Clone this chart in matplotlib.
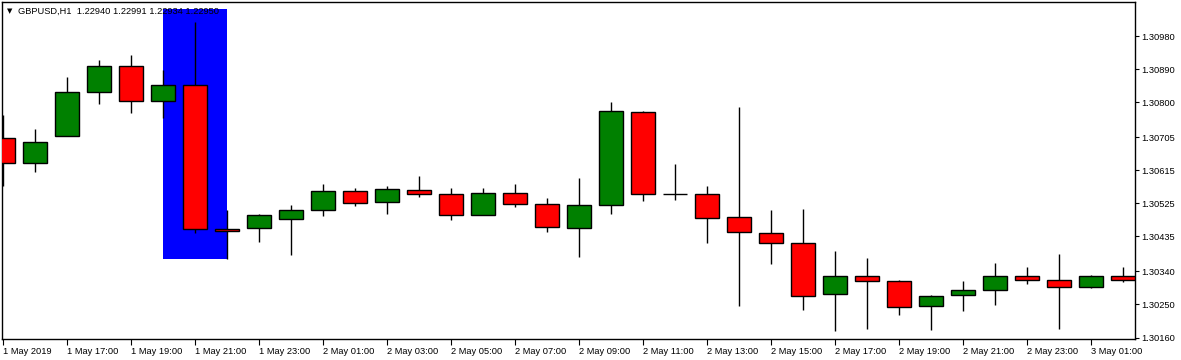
import matplotlib
matplotlib.use('Agg')
import matplotlib.pyplot as plt
from matplotlib.patches import Rectangle

plt.rcParams['font.family'] = ['Liberation Sans', 'DejaVu Sans']

# ── Data: GBPUSD H1 candles ───────────────────────────────────
opens = [1.30703, 1.30635, 1.30709, 1.30828, 1.30899, 1.30804, 1.30847, 1.30455,
         1.30458, 1.30483, 1.30507, 1.30559, 1.30529, 1.30562, 1.30551, 1.30494,
         1.30553, 1.30524, 1.30458, 1.30521, 1.30774, 1.30551, 1.30551, 1.30488,
         1.30445, 1.30417, 1.30278, 1.30328, 1.30314, 1.30246, 1.30276, 1.30289,
         1.30328, 1.30317, 1.30298, 1.30328]
highs = [1.30766, 1.30728, 1.30869, 1.30915, 1.30929, 1.30888, 1.31019, 1.30507,
         1.30496, 1.30521, 1.30578, 1.30567, 1.30573, 1.30600, 1.30567, 1.30567,
         1.30578, 1.30540, 1.30594, 1.30801, 1.30777, 1.30632, 1.30573, 1.30788,
         1.30507, 1.30510, 1.30396, 1.30377, 1.30317, 1.30276, 1.30314, 1.30363,
         1.30352, 1.30387, 1.30330, 1.30352]
lows = [1.30573, 1.30611, 1.30709, 1.30796, 1.30771, 1.30758, 1.30445, 1.30374,
        1.30420, 1.30385, 1.30491, 1.30518, 1.30496, 1.30543, 1.30480, 1.30494,
        1.30515, 1.30447, 1.30379, 1.30496, 1.30532, 1.30534, 1.30417, 1.30246,
        1.30360, 1.30235, 1.30178, 1.30183, 1.30221, 1.30181, 1.30232, 1.30249,
        1.30306, 1.30183, 1.30295, 1.30311]
closes = [1.30635, 1.30692, 1.30828, 1.30899, 1.30804, 1.30847, 1.30455, 1.30450,
          1.30494, 1.30507, 1.30559, 1.30526, 1.30564, 1.30551, 1.30494, 1.30553,
          1.30524, 1.30461, 1.30521, 1.30777, 1.30551, 1.30551, 1.30485, 1.30447,
          1.30417, 1.30273, 1.30328, 1.30314, 1.30243, 1.30273, 1.30289, 1.30328,
          1.30317, 1.30298, 1.30328, 1.30317]

x_labels = ['1 May 2019', '1 May 17:00', '1 May 19:00', '1 May 21:00', '1 May 23:00',
            '2 May 01:00', '2 May 03:00', '2 May 05:00', '2 May 07:00', '2 May 09:00',
            '2 May 11:00', '2 May 13:00', '2 May 15:00', '2 May 17:00', '2 May 19:00',
            '2 May 21:00', '2 May 23:00', '3 May 01:00']
y_ticks = [1.30980, 1.30890, 1.30800, 1.30705, 1.30615,
           1.30525, 1.30435, 1.30340, 1.30250, 1.30160]
header = 'GBPUSD,H1  1.22940 1.22991 1.22934 1.22950'

# blue highlight zone: bar 5 -> bar 7
zone_start, zone_end = 5, 7
zone_top = 1.31054
zone_bottom = lows[7]

# ── Figure ────────────────────────────────────────────────────
W, H = 1181, 360
fig = plt.figure(figsize=(W / 100, H / 100), dpi=100)
ax = fig.add_axes([2 / W, 21 / H, 1133 / W, 337 / H])

ax.add_patch(Rectangle((zone_start, zone_bottom), zone_end - zone_start,
                       zone_top - zone_bottom, facecolor='#0000FF',
                       edgecolor='none', zorder=1))

idx = list(range(len(opens)))
ax.vlines(idx, lows, highs, color='black', linewidth=1.0, zorder=2)
bottoms = [min(o, c) for o, c in zip(opens, closes)]
heights = [abs(c - o) for o, c in zip(opens, closes)]
colors = ['#008000' if c > o else '#FF0000' for o, c in zip(opens, closes)]
ax.bar(idx, heights, bottom=bottoms, width=0.75, color=colors,
       edgecolor='black', linewidth=1.0, zorder=3)

ax.set_xlim(-1 / 32, 1132 / 32)
ax.set_ylim(1.30156, 1.31073)

# ── Axes / ticks ──────────────────────────────────────────────
ax.yaxis.tick_right()
ax.set_yticks(y_ticks)
ax.set_yticklabels([f'{v:.5f}' for v in y_ticks])
ax.set_xticks(idx[::2][:len(x_labels)])
ax.set_xticklabels(x_labels, ha='left')
ax.tick_params(axis='y', direction='out', length=3, width=0.8, pad=1.5,
               labelsize=6.7, colors='black')
ax.tick_params(axis='x', direction='out', length=4, width=0.8, pad=1.5,
               labelsize=6.7, colors='black')
for sp in ax.spines.values():
    sp.set_linewidth(1.0)
    sp.set_color('black')

fig.text(9.5 / W, 1 - 11 / H, '▼', fontsize=5, ha='center', va='center',
         family=['DejaVu Sans'])
fig.text(18 / W, 1 - 11 / H, header, fontsize=6.7, ha='left', va='center',
         color='black', zorder=5)

fig.savefig('out.png', dpi=100)
